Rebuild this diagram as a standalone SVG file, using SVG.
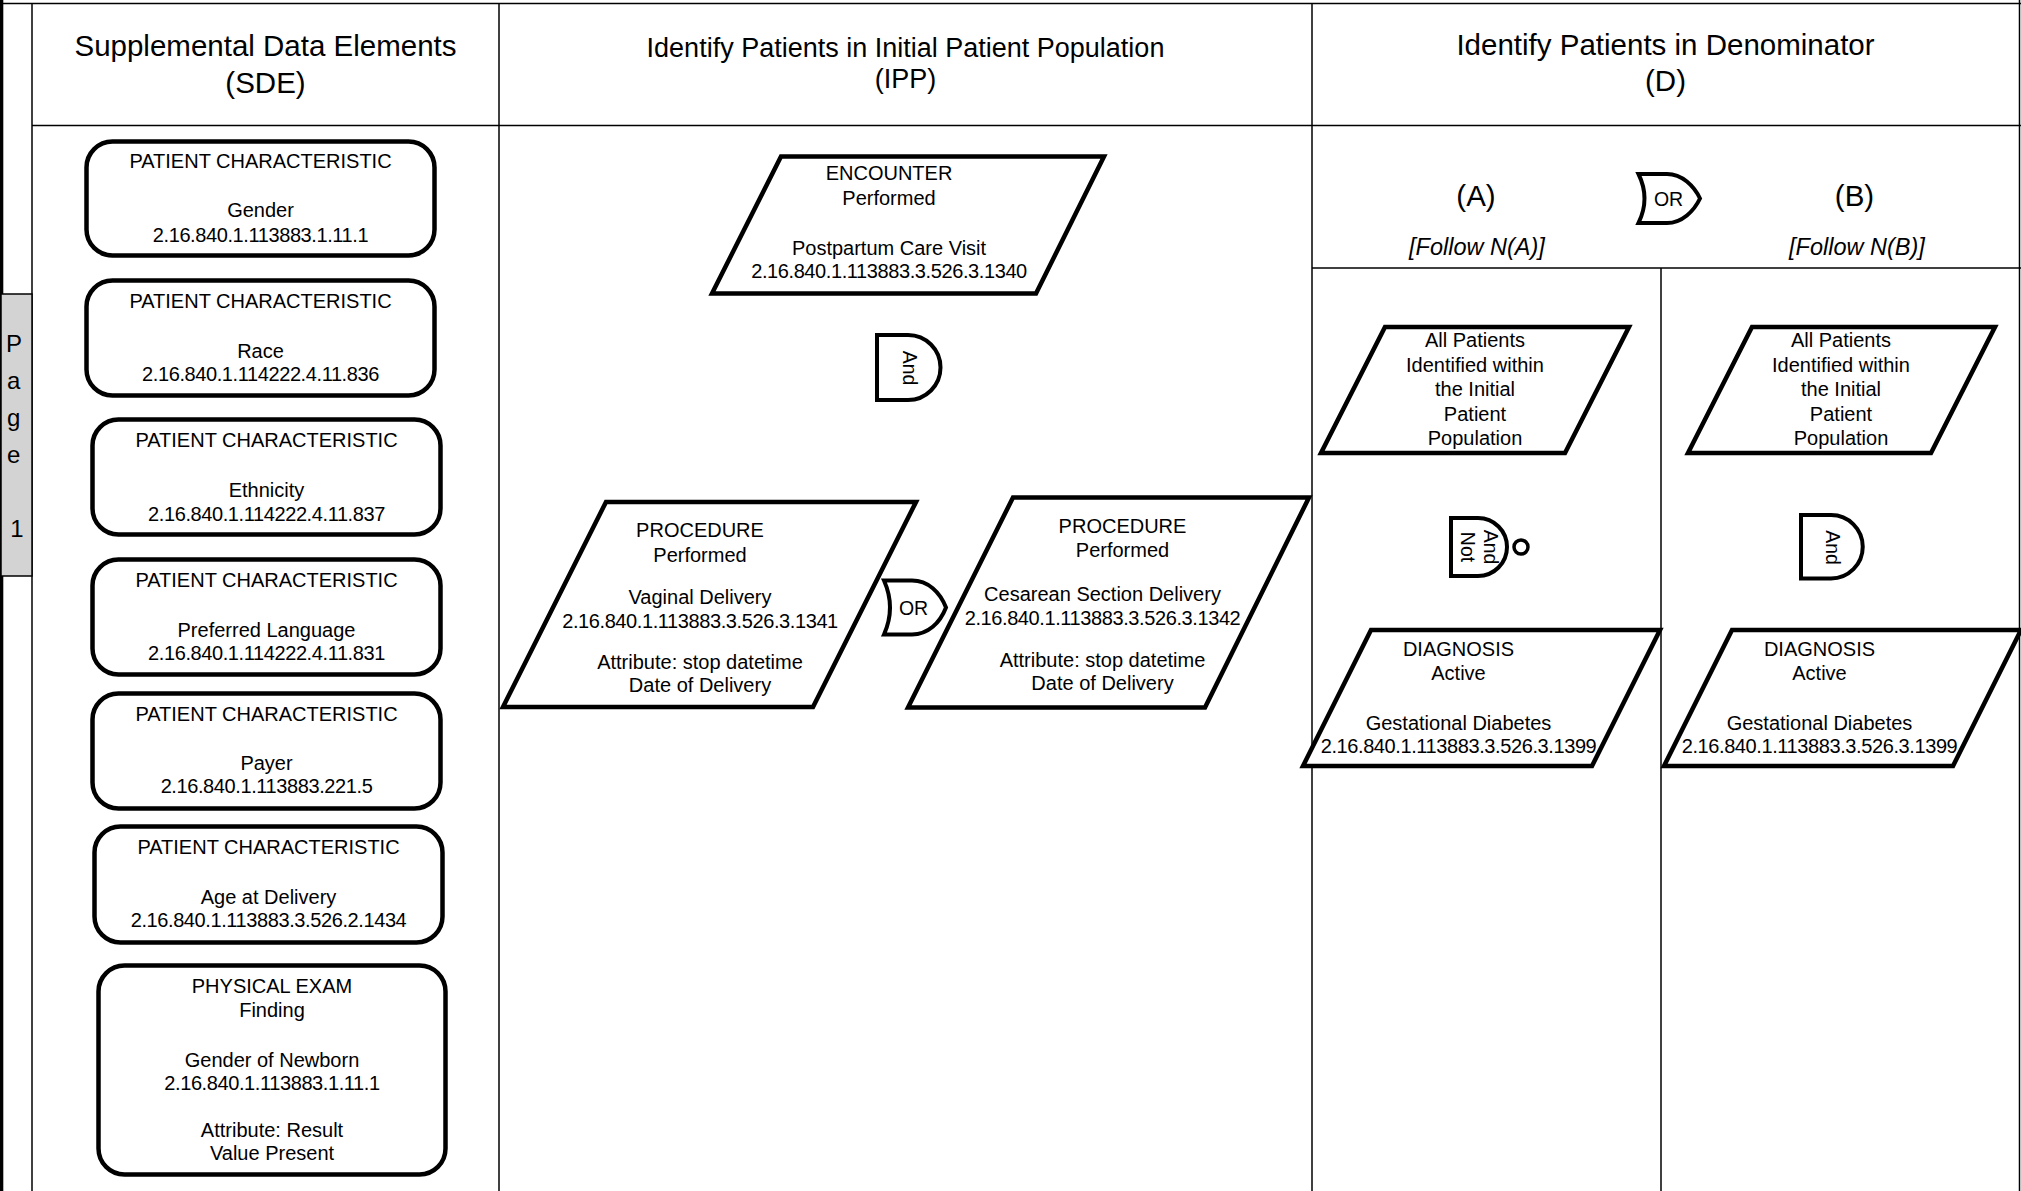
<svg xmlns="http://www.w3.org/2000/svg" width="2021" height="1191" viewBox="0 0 2021 1191">
<style>
  text { font-family: "Liberation Sans", Arial, Helvetica, sans-serif; fill: #000; }
  .hdr { font-size: 29.5px; text-anchor: middle; }
  .hdr2 { font-size: 27px; text-anchor: middle; }
  .t { font-size: 20px; text-anchor: middle; }
  .oid { letter-spacing: -0.4px; }
  .it { font-size: 23.5px; font-style: italic; text-anchor: middle; }
  .big { font-size: 29.5px; text-anchor: middle; }
  .gl { font-size: 19.5px; text-anchor: middle; }
  .grid { stroke: #000; stroke-width: 1.5; fill: none; }
  .box { fill: #fff; stroke: #000; stroke-width: 4.5; }
  .para { fill: #fff; stroke: #000; stroke-width: 4.5; stroke-linejoin: miter; }
  .gate { fill: #fff; stroke: #000; stroke-width: 4; }
  .tab { fill: #d3d3d3; stroke: #000; stroke-width: 1.5; }
</style>
<rect x="0" y="0" width="2021" height="1191" fill="#fff"/>

<g id="frame">
  <rect x="0" y="0" width="3.3" height="1191" fill="#000"/>
  <line class="grid" x1="0" y1="3.5" x2="2021" y2="3.5" stroke-width="2"/>
  <line class="grid" x1="32" y1="3.5" x2="32" y2="1191"/>
  <line class="grid" x1="499" y1="3.5" x2="499" y2="1191"/>
  <line class="grid" x1="1312" y1="3.5" x2="1312" y2="1191"/>
  <line class="grid" x1="2019.5" y1="0" x2="2019.5" y2="1191" stroke-width="3"/>
  <line class="grid" x1="32" y1="125.5" x2="2021" y2="125.5"/>
  <line class="grid" x1="1312" y1="268" x2="2021" y2="268"/>
  <line class="grid" x1="1661" y1="268" x2="1661" y2="1191"/>
</g>

<g id="page-tab">
  <rect class="tab" x="1" y="294" width="31" height="282"/>
  <text font-size="24" text-anchor="middle">
    <tspan x="17" y="352">P</tspan>
    <tspan x="17" y="389">a</tspan>
    <tspan x="17" y="426">g</tspan>
    <tspan x="17" y="463">e</tspan>
    <tspan x="17" y="537">1</tspan>
  </text>
</g>

<g id="headers">
  <text class="hdr"><tspan x="265.5" y="56">Supplemental Data Elements</tspan><tspan x="265.5" y="93">(SDE)</tspan></text>
  <text class="hdr2"><tspan x="905.5" y="57">Identify Patients in Initial Patient Population</tspan><tspan x="905.5" y="88">(IPP)</tspan></text>
  <text class="hdr"><tspan x="1665.5" y="55">Identify Patients in Denominator</tspan><tspan x="1665.5" y="91">(D)</tspan></text>
</g>

<g id="sde-gender">
  <rect class="box" x="86.5" y="141.5" width="348" height="114" rx="26"/>
  <text class="t"><tspan x="260.5" y="167.5">PATIENT CHARACTERISTIC</tspan><tspan x="260.5" y="216.5">Gender</tspan><tspan class="oid" x="260.5" y="242">2.16.840.1.113883.1.11.1</tspan></text>
</g>
<g id="sde-race">
  <rect class="box" x="86.5" y="280.5" width="348" height="115" rx="26"/>
  <text class="t"><tspan x="260.5" y="307.5">PATIENT CHARACTERISTIC</tspan><tspan x="260.5" y="357.5">Race</tspan><tspan class="oid" x="260.5" y="381">2.16.840.1.114222.4.11.836</tspan></text>
</g>
<g id="sde-ethnicity">
  <rect class="box" x="92.5" y="419.5" width="348" height="115" rx="26"/>
  <text class="t"><tspan x="266.5" y="447">PATIENT CHARACTERISTIC</tspan><tspan x="266.5" y="497">Ethnicity</tspan><tspan class="oid" x="266.5" y="520.5">2.16.840.1.114222.4.11.837</tspan></text>
</g>
<g id="sde-language">
  <rect class="box" x="92.5" y="559.5" width="348" height="115" rx="26"/>
  <text class="t"><tspan x="266.5" y="586.5">PATIENT CHARACTERISTIC</tspan><tspan x="266.5" y="636.5">Preferred Language</tspan><tspan class="oid" x="266.5" y="660">2.16.840.1.114222.4.11.831</tspan></text>
</g>
<g id="sde-payer">
  <rect class="box" x="92.5" y="693.5" width="348" height="115" rx="26"/>
  <text class="t"><tspan x="266.5" y="720.5">PATIENT CHARACTERISTIC</tspan><tspan x="266.5" y="769.5">Payer</tspan><tspan class="oid" x="266.5" y="793">2.16.840.1.113883.221.5</tspan></text>
</g>
<g id="sde-age">
  <rect class="box" x="94.5" y="826.5" width="348" height="116" rx="26"/>
  <text class="t"><tspan x="268.5" y="853.5">PATIENT CHARACTERISTIC</tspan><tspan x="268.5" y="904">Age at Delivery</tspan><tspan class="oid" x="268.5" y="927">2.16.840.1.113883.3.526.2.1434</tspan></text>
</g>
<g id="sde-newborn">
  <rect class="box" x="98.5" y="965.5" width="347" height="209" rx="26"/>
  <text class="t"><tspan x="272" y="993">PHYSICAL EXAM</tspan><tspan x="272" y="1016.5">Finding</tspan><tspan x="272" y="1067">Gender of Newborn</tspan><tspan class="oid" x="272" y="1090">2.16.840.1.113883.1.11.1</tspan><tspan x="272" y="1137">Attribute: Result</tspan><tspan x="272" y="1160">Value Present</tspan></text>
</g>

<g id="ipp-encounter">
  <polygon class="para" points="781,156.5 1104,156.5 1036,293.5 712,293.5"/>
  <text class="t"><tspan x="889" y="180">ENCOUNTER</tspan><tspan x="889" y="204.5">Performed</tspan><tspan x="889" y="255">Postpartum Care Visit</tspan><tspan class="oid" x="889" y="278">2.16.840.1.113883.3.526.3.1340</tspan></text>
</g>
<g id="ipp-and">
  <path class="gate" d="M877,335 L908,335 A32.5,32.5 0 0 1 908,400 L877,400 Z"/>
  <text class="gl" transform="translate(909.5,368) rotate(90)" y="7">And</text>
</g>
<g id="ipp-vaginal">
  <polygon class="para" points="606,502 916,502 813,707 503,707"/>
  <text class="t"><tspan x="700" y="537">PROCEDURE</tspan><tspan x="700" y="561.5">Performed</tspan><tspan x="700" y="604">Vaginal Delivery</tspan><tspan class="oid" x="700" y="628">2.16.840.1.113883.3.526.3.1341</tspan><tspan x="700" y="669">Attribute: stop datetime</tspan><tspan x="700" y="692">Date of Delivery</tspan></text>
</g>
<g id="ipp-or">
  <path class="gate" d="M884,580.5 L912,580.5 C928,580.5 940,592 946,607.5 C940,623 928,634.5 912,634.5 L884,634.5 Q896,607.5 884,580.5 Z"/>
  <text class="gl" x="913.5" y="614.5">OR</text>
</g>
<g id="ipp-cesarean">
  <polygon class="para" points="1013,497.5 1309,497.5 1205,707.5 908,707.5"/>
  <text class="t"><tspan x="1122.5" y="533">PROCEDURE</tspan><tspan x="1122.5" y="557">Performed</tspan><tspan x="1102.5" y="601">Cesarean Section Delivery</tspan><tspan class="oid" x="1102.5" y="624.5">2.16.840.1.113883.3.526.3.1342</tspan><tspan x="1102.5" y="667">Attribute: stop datetime</tspan><tspan x="1102.5" y="690">Date of Delivery</tspan></text>
</g>

<g id="d-header-row">
  <text class="big" x="1476" y="206">(A)</text>
  <text class="big" x="1854.5" y="206">(B)</text>
  <text class="it" x="1477" y="255">[Follow N(A)]</text>
  <text class="it" x="1857" y="255">[Follow N(B)]</text>
</g>
<g id="d-or">
  <path class="gate" d="M1638.5,174 L1667,174 C1682,174 1694,186 1700,198.5 C1694,211 1682,223 1667,223 L1638.5,223 Q1650.5,198.5 1638.5,174 Z"/>
  <text class="gl" x="1668.5" y="205.5">OR</text>
</g>

<g id="d-a-ipp">
  <polygon class="para" points="1385,327 1629,327 1565,453 1321,453"/>
  <text class="t"><tspan x="1475" y="347">All Patients</tspan><tspan x="1475" y="371.5">Identified within</tspan><tspan x="1475" y="396">the Initial</tspan><tspan x="1475" y="420.5">Patient</tspan><tspan x="1475" y="445">Population</tspan></text>
</g>
<g id="d-a-andnot">
  <path class="gate" d="M1451,518 L1478,518 A29,29 0 0 1 1478,576 L1451,576 Z"/>
  <circle cx="1521" cy="547" r="7" fill="#fff" stroke="#000" stroke-width="3.5"/>
  <text class="gl" font-size="19" transform="translate(1479,547) rotate(90)"><tspan x="0" y="-5.2">And</tspan><tspan x="0" y="17.8">Not</tspan></text>
</g>
<g id="d-a-diagnosis">
  <polygon class="para" points="1371,630 1660,630 1592,766 1303,766"/>
  <text class="t"><tspan x="1458.5" y="655.5">DIAGNOSIS</tspan><tspan x="1458.5" y="680">Active</tspan><tspan x="1458.5" y="729.5">Gestational Diabetes</tspan><tspan class="oid" x="1458.5" y="752.5">2.16.840.1.113883.3.526.3.1399</tspan></text>
</g>

<g id="d-b-ipp">
  <polygon class="para" points="1752,327 1995,327 1931,453 1688,453"/>
  <text class="t"><tspan x="1841" y="347">All Patients</tspan><tspan x="1841" y="371.5">Identified within</tspan><tspan x="1841" y="396">the Initial</tspan><tspan x="1841" y="420.5">Patient</tspan><tspan x="1841" y="445">Population</tspan></text>
</g>
<g id="d-b-and">
  <path class="gate" d="M1801,515 L1831,515 A31.75,31.75 0 0 1 1831,578.5 L1801,578.5 Z"/>
  <text class="gl" transform="translate(1833,547.5) rotate(90)" y="7">And</text>
</g>
<g id="d-b-diagnosis">
  <polygon class="para" points="1732,630 2021,630 1953,766 1664,766"/>
  <text class="t"><tspan x="1819.5" y="655.5">DIAGNOSIS</tspan><tspan x="1819.5" y="680">Active</tspan><tspan x="1819.5" y="729.5">Gestational Diabetes</tspan><tspan class="oid" x="1819.5" y="752.5">2.16.840.1.113883.3.526.3.1399</tspan></text>
</g>

<g id="connectors"></g>
</svg>
